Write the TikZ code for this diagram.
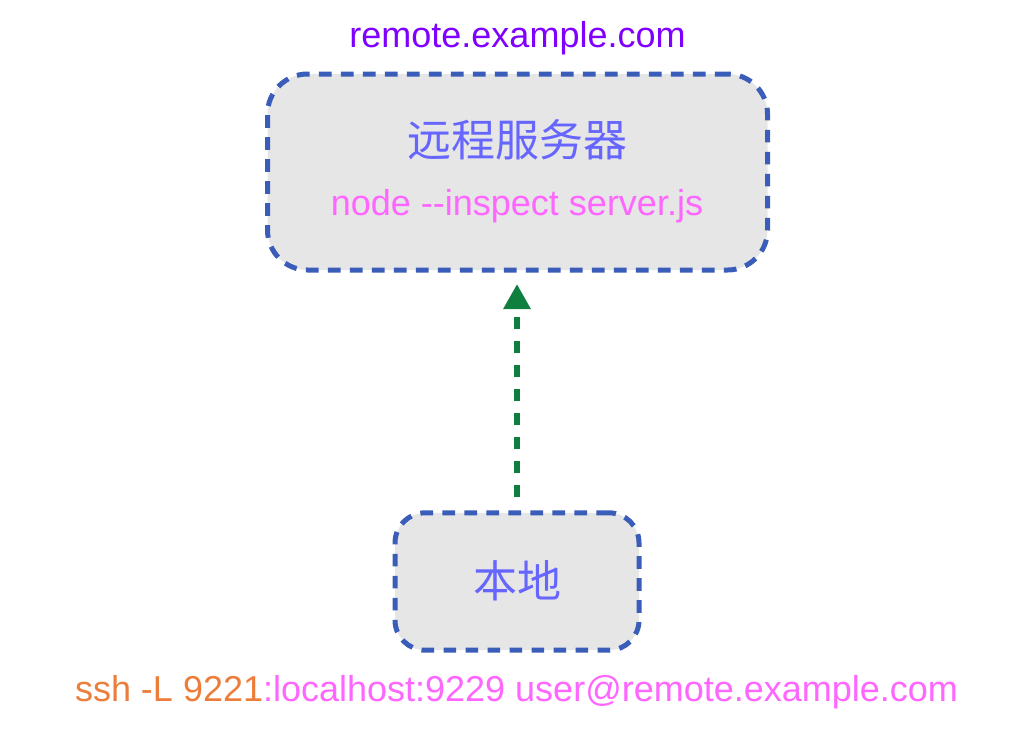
\documentclass[tikz,border=0pt]{standalone}
\usepackage{fontspec}
\setmainfont{Liberation Sans}
\newfontfamily\cjk{Noto Sans CJK SC}
\usetikzlibrary{arrows.meta}
\definecolor{boxfill}{HTML}{E6E6E6}
\definecolor{boxline}{HTML}{3A5DB9}
\definecolor{cjktext}{HTML}{6666FF}
\definecolor{pinktext}{HTML}{FF66FF}
\definecolor{purpletext}{HTML}{7F00FF}
\definecolor{orangetext}{HTML}{ED7D3A}
\definecolor{arrowgreen}{HTML}{0F7F40}
\begin{document}
\begin{tikzpicture}[x=0.75pt,y=-0.75pt,
  hostbox/.style={draw=boxline, fill=boxfill, line width=3.75pt,
    dash pattern=on 9.5pt off 7pt, inner sep=0pt},
  cjklabel/.style={text=cjktext, font=\cjk\fontsize{33}{40}\selectfont, inner sep=0pt},
  latinlabel/.style={font=\fontsize{27}{32}\selectfont, inner sep=0pt},
  tunnel/.style={draw=arrowgreen, line width=4.5pt, dash pattern=on 9pt off 9pt,
    -{Triangle[width=19.5pt,length=18.75pt]}}
]
\useasboundingbox (0,0) rectangle (1034,754);
\node[hostbox, minimum width=375pt, minimum height=147pt, rounded corners=30pt] (remote) at (517.5,172) {};
\node[hostbox, minimum width=183pt, minimum height=103pt, rounded corners=22.5pt] (local) at (517,581.5) {};
\node[cjklabel] (remotename) at (517.5,140) {远程服务器};
\node[latinlabel, text=pinktext] (cmd) at (517,206) {node -{}-inspect server.js};
\node[latinlabel, text=purpletext] (host) at (517.5,38) {remote.example.com};
\node[cjklabel] (localname) at (517,581) {本地};
\node[latinlabel] (ssh) at (516.5,692) {\textcolor{orangetext}{ssh -L 9221}\textcolor{pinktext}{:localhost:9229 user@remote.example.com}};
\coordinate (tip) at (517,284);
\draw[tunnel] ([yshift=10pt]local.north) -- (tip);
\end{tikzpicture}
\end{document}
